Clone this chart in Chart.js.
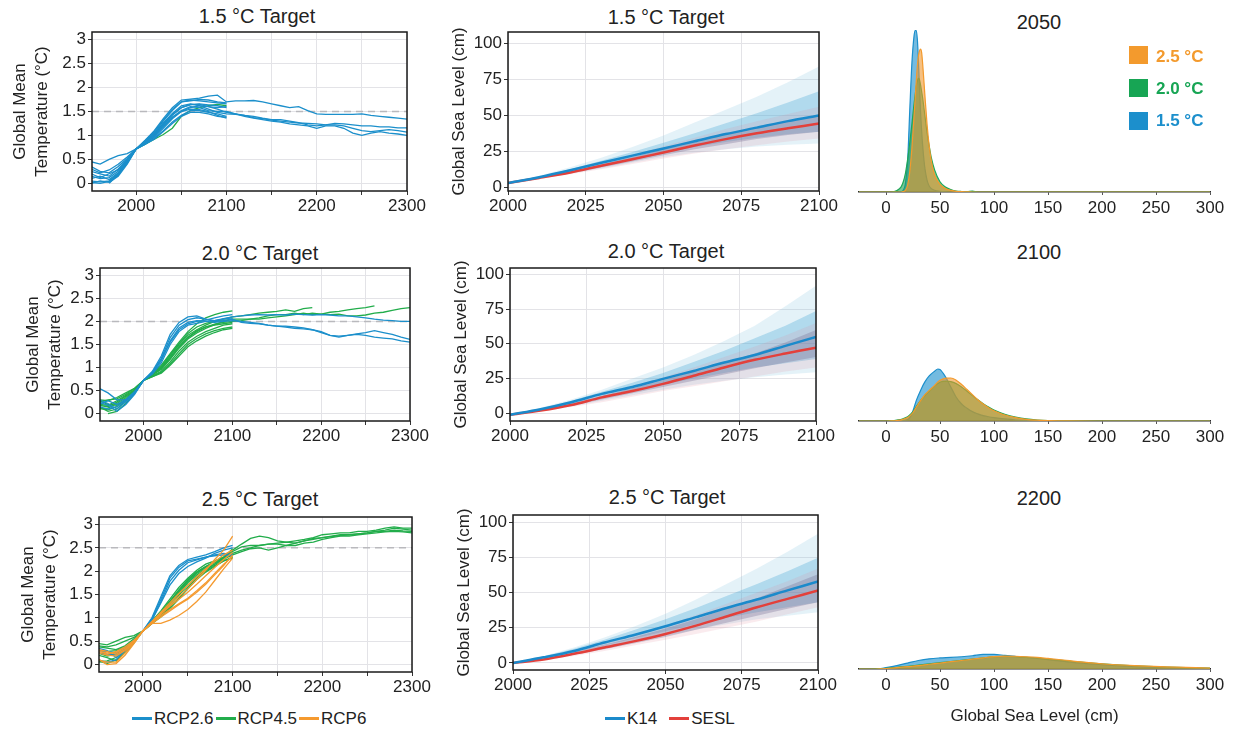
<!DOCTYPE html>
<html lang="en">
<head>
<meta charset="UTF-8">
<title>Temperature targets and sea level</title>
<script src="https://cdn.jsdelivr.net/npm/chart.js"></script>
<style>
    body {
        margin: 0;
        width: 1237px;
        height: 729px;
        position: relative;
        overflow: hidden;
        background: #fff;
        font-family: 'Liberation Sans', Arial, sans-serif;
        color: #222;
    }
    canvas { position: absolute; }
    .title {
        position: absolute;
        font-size: 20px;
        line-height: 20px;
        transform: translateX(-50%);
        white-space: nowrap;
    }
    .leg {
        position: absolute;
        font-size: 17px;
        line-height: 17px;
        display: flex;
        align-items: center;
        white-space: nowrap;
    }
    .leg i { display: inline-block; width: 20px; height: 3px; margin: 0 2px 0 0; }
    .leg span { margin-right: 2px; }
    .dleg {
        position: absolute;
        font-size: 17px;
        line-height: 17px;
        font-weight: bold;
        white-space: nowrap;
    }
    .sq { position: absolute; width: 19px; height: 18px; }
</style>
</head>
<body>
<!-- panel titles -->
<div class="title" style="left:257px;top:6px">1.5 °C Target</div>
<div class="title" style="left:666px;top:7px">1.5 °C Target</div>
<div class="title" style="left:1039px;top:12px">2050</div>
<div class="title" style="left:260px;top:243px">2.0 °C Target</div>
<div class="title" style="left:666px;top:241px">2.0 °C Target</div>
<div class="title" style="left:1039px;top:242px">2100</div>
<div class="title" style="left:260px;top:489px">2.5 °C Target</div>
<div class="title" style="left:667px;top:487px">2.5 °C Target</div>
<div class="title" style="left:1039px;top:488px">2200</div>

<canvas id="t15"></canvas>
<canvas id="t20"></canvas>
<canvas id="t25"></canvas>
<canvas id="s15"></canvas>
<canvas id="s20"></canvas>
<canvas id="s25"></canvas>
<canvas id="d2050"></canvas>
<canvas id="d2100"></canvas>
<canvas id="d2200"></canvas>

<!-- density legend -->
<div class="sq" style="left:1129px;top:46px;background:#f39a2d"></div>
<div class="sq" style="left:1129px;top:79px;background:#17a554"></div>
<div class="sq" style="left:1129px;top:112px;background:#1c8fcc"></div>
<div class="dleg" style="left:1156px;top:48px;color:#f39a2d">2.5 °C</div>
<div class="dleg" style="left:1156px;top:80px;color:#17a554">2.0 °C</div>
<div class="dleg" style="left:1156px;top:112px;color:#1c8fcc">1.5 °C</div>

<!-- bottom legends -->
<div class="leg" style="left:132px;top:710px">
    <i style="background:#1b8fcb"></i><span>RCP2.6</span>
    <i style="background:#22ad4b"></i><span>RCP4.5</span>
    <i style="background:#f59a2f"></i><span>RCP6</span>
</div>
<div class="leg" style="left:605px;top:710px">
    <i style="background:#1b8acb"></i><span style="margin-right:12px">K14</span>
    <i style="background:#e3403b"></i><span>SESL</span>
</div>

<script>
// ---- axes ----
const years = [1950,1960,1970,1980,1990,2000,2010,2020,2030,2040,2050,2060,2070,2080,2090,2100,
    2110,2120,2130,2140,2150,2160,2170,2180,2190,2200,2210,2220,2230,2240,2250,2260,2270,2280,2290,2300];
const tempTicksX = [2000,2050,2100,2150,2200,2250,2300];
const tempTicksY = [0,0.5,1,1.5,2,2.5,3];
const seaYears = [2000,2010,2020,2030,2040,2050,2060,2070,2080,2090,2100];
const seaTicksX = [2000,2025,2050,2075,2100];
const seaTicksY = [0,25,50,75,100];
const densTicksX = [0,50,100,150,200,250,300];
const targets = [1.5, 2.0, 2.5];

// ---- 1.5 °C target, global mean temperature (1950..2100, extensions 2110..2300) ----
const t15Rcp26 = [
    [0.45,0.40,0.50,0.58,0.62,0.72,0.90,1.10,1.35,1.58,1.74,1.76,1.78,1.82,1.84,1.70],
    [0.30,0.22,0.28,0.40,0.55,0.72,0.88,1.05,1.30,1.52,1.70,1.74,1.72,1.70,1.68,1.66],
    [0.25,0.20,0.15,0.30,0.50,0.72,0.85,1.00,1.22,1.42,1.58,1.65,1.65,1.60,1.55,1.48],
    [0.15,0.10,0.12,0.25,0.48,0.72,0.84,0.98,1.18,1.38,1.52,1.60,1.58,1.52,1.50,1.50],
    [0.05,0.03,0.05,0.20,0.45,0.72,0.84,0.96,1.15,1.35,1.50,1.58,1.62,1.55,1.48,1.45],
    [0.02,0.00,0.04,0.18,0.42,0.72,0.82,0.94,1.10,1.28,1.42,1.52,1.52,1.48,1.45,1.40],
    [0.10,0.15,0.08,0.22,0.46,0.72,0.86,1.00,1.20,1.38,1.50,1.55,1.54,1.50,1.42,1.36],
    [0.20,0.12,0.20,0.28,0.50,0.72,0.88,1.04,1.26,1.46,1.62,1.66,1.62,1.60,1.58,1.60],
    [0.00,0.05,0.02,0.15,0.40,0.72,0.82,0.92,1.08,1.25,1.40,1.48,1.48,1.45,1.40,1.38],
    [0.35,0.25,0.22,0.35,0.52,0.72,0.90,1.08,1.32,1.55,1.70,1.72,1.75,1.74,1.70,1.68],
    [null,null,0.00,0.18,0.45,0.72,0.86,1.02,1.24,1.44,1.58,1.64,1.66,1.64,1.62,1.58]
];
const t15Ext = [
    [1.72,1.72,1.73,1.70,1.66,1.62,1.58,1.60,1.52,1.45,1.44,1.44,1.44,1.44,1.45,1.42,1.40,1.38,1.36,1.34],
    [1.45,1.42,1.40,1.36,1.33,1.33,1.30,1.27,1.22,1.20,1.22,1.25,1.24,1.22,1.20,1.20,1.18,1.18,1.16,1.16],
    [1.45,1.40,1.36,1.33,1.30,1.28,1.24,1.22,1.20,1.15,1.20,1.20,1.15,1.05,1.00,1.05,1.08,1.05,1.03,1.00],
    [1.44,1.42,1.37,1.35,1.32,1.30,1.28,1.26,1.25,1.24,1.22,1.22,1.20,1.15,1.10,1.08,1.10,1.12,1.10,1.07]
];
const t15ExtOf = [0, 2, 3, 4];
const t15Rcp45 = [
    [null,null,0.05,0.20,0.45,0.72,0.82,0.92,1.02,1.15,1.40,1.52,1.58,1.62,1.65,1.62]
];

// ---- 2.0 °C target ----
const t20Rcp26 = [
    [0.55,0.45,0.30,0.30,0.45,0.72,0.92,1.25,1.72,1.98,2.10,2.12,2.05,2.02,2.06,2.10],
    [0.30,0.22,0.10,0.25,0.45,0.72,0.90,1.20,1.65,1.92,2.04,2.08,2.05,2.00,2.02,2.05],
    [0.25,0.18,0.05,0.20,0.42,0.72,0.88,1.15,1.58,1.86,1.98,2.02,2.00,1.98,2.00,2.02],
    [0.20,0.28,0.20,0.30,0.48,0.72,0.90,1.18,1.55,1.82,1.95,2.00,2.03,2.08,2.12,2.15],
    [0.15,0.10,0.15,0.28,0.46,0.72,0.86,1.10,1.50,1.78,1.92,1.96,2.00,2.02,2.05,2.08]
];
const t20Rcp26Ext = [
    [2.12,2.14,2.15,2.14,2.15,2.14,2.16,2.15,2.14,2.15,2.14,2.12,2.12,2.10,2.08,2.05,2.03,2.02,2.00,2.00],
    [1.98,1.96,1.95,1.92,1.90,1.90,1.88,1.86,1.82,1.78,1.70,1.66,1.70,1.73,1.76,1.80,1.76,1.72,1.66,1.61],
    [2.00,1.98,1.96,1.92,1.90,1.88,1.85,1.84,1.82,1.76,1.70,1.68,1.70,1.72,1.70,1.66,1.64,1.62,1.58,1.55]
];
const t20Rcp45 = [
    [0.30,0.28,0.35,0.45,0.55,0.72,0.88,1.05,1.30,1.55,1.78,1.95,2.08,2.15,2.20,2.23],
    [0.20,0.18,0.28,0.40,0.52,0.72,0.86,1.00,1.25,1.50,1.70,1.82,1.92,2.00,2.05,2.10],
    [0.10,0.12,0.22,0.35,0.50,0.72,0.84,0.96,1.18,1.42,1.62,1.75,1.85,1.93,2.00,2.05],
    [0.28,0.20,0.18,0.32,0.48,0.72,0.85,0.98,1.20,1.45,1.65,1.78,1.88,1.94,1.98,2.00],
    [0.15,0.05,0.10,0.28,0.46,0.72,0.82,0.92,1.12,1.36,1.55,1.68,1.78,1.85,1.92,1.95],
    [null,0.00,0.05,0.22,0.44,0.72,0.80,0.90,1.08,1.30,1.50,1.63,1.73,1.80,1.85,1.88],
    [0.25,0.30,0.32,0.42,0.55,0.72,0.87,1.02,1.28,1.52,1.74,1.88,1.96,2.00,2.02,2.05],
    [0.12,0.08,0.15,0.30,0.48,0.72,0.85,1.00,1.22,1.46,1.66,1.80,1.88,1.92,1.95,1.98],
    [0.18,0.15,0.25,0.38,0.50,0.72,0.80,0.88,1.05,1.25,1.45,1.58,1.68,1.76,1.82,1.85]
];
const t20Rcp45Ext = [
    [2.12,2.15,2.18,2.20,2.22,2.25,2.22,2.28,2.30],
    [2.05,2.05,2.08,2.12,2.15,2.15,2.18,2.15,2.18,2.16,2.20,2.22,2.25,2.28,2.30,2.34],
    [2.02,2.05,2.05,2.08,2.10,2.12,2.15,2.18,2.15,2.16,2.15,2.16,2.12,2.12,2.14,2.18,2.20,2.24,2.28,2.30]
];

// ---- 2.5 °C target ----
const t25Rcp26 = [
    [0.35,0.30,0.15,0.30,0.50,0.72,1.00,1.45,1.90,2.12,2.25,2.30,2.35,2.42,2.50,2.55],
    [0.25,0.22,0.20,0.32,0.50,0.72,0.98,1.40,1.85,2.08,2.22,2.26,2.30,2.35,2.38,2.36],
    [0.30,0.28,0.25,0.35,0.52,0.72,0.95,1.35,1.78,2.02,2.18,2.24,2.30,2.33,2.35,2.33],
    [0.10,0.05,0.10,0.30,0.48,0.72,0.95,1.32,1.70,1.95,2.10,2.20,2.28,2.38,2.45,2.50]
];
const t25Rcp45 = [
    [0.45,0.42,0.50,0.58,0.62,0.72,0.92,1.12,1.35,1.58,1.80,1.98,2.10,2.20,2.30,2.45],
    [0.40,0.38,0.42,0.50,0.58,0.72,0.90,1.08,1.30,1.52,1.75,1.92,2.05,2.15,2.28,2.42],
    [0.05,0.08,0.15,0.30,0.50,0.72,0.88,1.05,1.25,1.48,1.70,1.88,2.02,2.15,2.25,2.38],
    [0.08,0.02,0.10,0.28,0.48,0.72,0.90,1.10,1.32,1.55,1.78,1.95,2.08,2.18,2.26,2.35],
    [0.30,0.28,0.30,0.38,0.52,0.72,0.88,1.02,1.20,1.40,1.62,1.82,1.98,2.10,2.22,2.30],
    [0.20,0.15,0.08,0.25,0.46,0.72,0.92,1.12,1.35,1.60,1.82,1.98,2.10,2.20,2.28,2.35],
    [0.38,0.35,0.32,0.40,0.55,0.72,0.88,1.05,1.22,1.42,1.65,1.85,2.00,2.12,2.22,2.28],
    [0.25,0.18,0.22,0.35,0.50,0.72,0.93,1.15,1.40,1.65,1.85,2.02,2.15,2.22,2.30,2.48]
];
const t25Rcp45Ext = [
    [2.58,2.70,2.75,2.72,2.65,2.62,2.65,2.68,2.72,2.78,2.80,2.82,2.82,2.85,2.85,2.88,2.92,2.95,2.92,2.92],
    [2.52,2.55,2.55,2.58,2.60,2.62,2.60,2.65,2.68,2.72,2.74,2.76,2.78,2.80,2.82,2.85,2.88,2.92,2.90,2.88],
    [2.45,2.50,2.55,2.58,2.58,2.55,2.60,2.65,2.70,2.72,2.75,2.78,2.78,2.80,2.82,2.85,2.85,2.88,2.86,2.85],
    [2.42,2.48,2.50,2.45,2.50,2.55,2.55,2.60,2.62,2.68,2.72,2.75,2.75,2.78,2.80,2.82,2.84,2.85,2.84,2.82]
];
const t25Rcp6 = [
    [0.10,0.05,0.05,0.25,0.48,0.72,0.88,0.88,0.95,1.05,1.18,1.35,1.55,1.80,2.05,2.28],
    [0.28,0.25,0.25,0.35,0.50,0.72,0.90,1.05,1.18,1.30,1.42,1.58,1.75,1.95,2.15,2.32],
    [0.30,0.22,0.28,0.38,0.52,0.72,0.92,1.10,1.28,1.45,1.62,1.82,2.02,2.25,2.45,2.75],
    [0.12,0.00,0.02,0.20,0.45,0.72,0.88,1.02,1.15,1.28,1.40,1.55,1.72,1.92,2.12,2.35],
    [0.25,0.20,0.18,0.30,0.48,0.72,0.90,1.08,1.25,1.40,1.55,1.72,1.90,2.08,2.25,2.40],
    [0.32,0.28,0.22,0.32,0.50,0.72,0.92,1.12,1.32,1.52,1.70,1.88,2.05,2.20,2.35,2.45]
];

// ---- global sea level (cm), 2000..2100: median, 17-83 %, 5-95 % ----
const k14Med = [
    [3,7,11.8,17,22,27,32,37,41.5,46,50],
    [-1,3,8,14,19,24.8,30.5,36.5,42,48.5,55],
    [0,4,8.5,14.5,20,26,32.5,39,45,51.5,57.8]
];
const k14Hi17 = [
    [3,7.5,12.5,18.5,24.5,31,37.5,44.5,51.5,59,66.7],
    [-1,3.5,9,15.5,22,29,37,45,54,63,73.5],
    [0,4.5,10,16.5,23.5,31,39,47.5,56,65,74.6]
];
const k14Lo17 = [
    [3,6.5,10.5,14.5,19,23.5,28,31.5,34.5,36.8,38.7],
    [-1,2.5,6.5,11,16,20.5,25,29,33,36,39],
    [0,3.5,7.5,12.5,17.5,22.5,27.5,32,36,39.5,43]
];
const k14Hi5 = [
    [3,8,14,20.5,28,36,45,54,63,73,84],
    [-1,4,10,17,25,33,42,52,63,77,91.8],
    [0,5,11,18,26,35,45,56,67,79,91.7]
];
const k14Lo5 = [
    [3,6,9.5,13,17,21,24,26.5,28.3,29.5,30.5],
    [-1,2,5,9,13,17,20.5,23.5,26,28,29.6],
    [0,3,6.5,10.5,15,19.5,23.5,27.5,31,33.5,36]
];
const seslMed = [
    [3,6.5,10.3,15,19.5,24.2,29,33.5,37.5,41,44.3],
    [-1,2,6,11.5,16,21.2,27,33,38.5,43,47.2],
    [0,2.5,6.5,11,15.5,20.6,26.5,33,39.5,45.5,51.4]
];
const seslHi17 = [
    [3,6.8,11,16,21,26.5,32,37,41.5,46,50.5],
    [-1,2.5,7,12.5,18,23.8,30,36.5,43,51,60],
    [0,3,7.8,13,18.5,24.5,31,38.5,46,54.5,63]
];
const seslLo17 = [
    [3,6.2,9.6,13.8,18,22.2,26.5,30,33.5,36.3,38.7],
    [-1,1.8,5.5,10,14.5,19,23.5,28,32.5,36.5,40.5],
    [0,2.2,5.8,9.8,14,18.5,23.5,28.5,33.5,38.5,43]
];
const seslHi5 = [
    [3,7.2,11.8,17,22.5,28.5,34.5,40.5,46,51,56],
    [-1,3,8,13.5,19.5,26,33,40.5,48,56,65],
    [0,3.5,8.5,14,20,26.5,34,42,50,58,67]
];
const seslLo5 = [
    [3,5.8,9,12.5,16.2,20,23.5,26.5,29.3,31.8,34],
    [-1,1.5,4.5,8,12,16,19.5,23,26.5,30,33],
    [0,2,5,8.5,12.5,16.5,20.5,25,29.5,34.5,39.6]
];

// ---- sea level densities (arbitrary units) ----
const d2050X  = [-25,5,10,14,16,18,20,22,24,26,27,28,29,30,31,32,33,34,36,38,40,42,45,50,55,60,65,70,75,80,85,300];
const d2050B  = [0,0,0,0.2,1,5,18,48,76,92,95,95,90,78,62,47,36,27,14,7,3.5,2,1,0.4,0.1,0,0,0,0,0,0,0];
const d2050G  = [0,0,0.8,3,6,11,19,29,40,52,57,62,65,67,66,63,59,55,45,35,27,20,13,6,3,1.5,0.6,0.3,0.2,0.5,0,0];
const d2050O  = [0,0,0,0,0.3,1,4,12,26,45,55,65,74,80,83,84,82,75,57,40,27,18,10,4.5,2,1,0.4,0.2,0.1,0,0,0];
const d2100X  = [-25,0,5,10,15,20,22,25,28,32,36,40,45,48,50,53,56,60,65,70,75,80,85,90,95,100,110,120,130,140,150,170,200,300];
const d2100B  = [0,0,0,0,0.3,0.8,2,6,12,18,23,26.5,29.3,30.6,30.3,28,25,20,14,10,7.5,5.5,4.2,3.2,2.5,2,1.2,0.6,0.3,0.1,0,0,0,0];
const d2100G  = [0,0,0.2,0.6,1.2,2.5,3.5,5.5,8.5,12,15,17.5,20.5,22,22.8,23.3,23.5,23.2,22,20,17.5,15,12.5,10.2,8.2,6.5,4,2.3,1.2,0.6,0.3,0.1,0,0];
const d2100O  = [0,0,0.1,0.3,0.8,2,3,5,8,12,15.5,18,21,23,24,24.8,25.2,25.3,24,21.5,18.5,15.5,12.5,10,7.8,6,3.5,2,1,0.5,0.25,0.05,0,0];
const d2200X  = [-25,-15,-5,0,10,20,30,40,50,60,70,80,90,100,110,120,130,140,150,160,170,180,200,230,260,300];
const d2200B  = [0,0,0.3,0.8,2,3.5,5,6,6.5,6.8,7.2,7.8,8.6,8.6,8,7.4,6.8,6.2,5.5,4.8,4,3.4,2.5,1.4,0.8,0.3];
const d2200G  = [0,0,0.2,0.4,1,1.6,2.3,3,3.7,4.4,5.1,5.8,6.5,7.1,7.4,7.2,6.8,6.4,5.8,5.2,4.6,4,3,1.9,1.1,0.5];
const d2200O  = [0,0,0.1,0.3,0.8,1.4,2,2.8,3.5,4.3,5,5.8,6.6,7.3,7.6,7.5,7.2,6.8,6.2,5.6,4.9,4.2,3.1,2,1.2,0.6];

// ---- colours ----
const C26 = '#1b8fcb', C45 = '#22ad4b', C6 = '#f59a2f';
const K14 = '#1b8acb', SESL = '#e3403b';

Chart.defaults.font.family = "'Liberation Sans', Arial, sans-serif";
Chart.defaults.color = '#222';
Chart.defaults.animation = false;
Chart.defaults.plugins.legend.display = false;
Chart.defaults.plugins.tooltip.enabled = false;

// black box round the plot area
const frame = {
    id: 'frame',
    afterDatasetsDraw(chart) {
        const a = chart.chartArea, ctx = chart.ctx;
        ctx.save();
        ctx.strokeStyle = '#1a1a1a';
        ctx.lineWidth = 1.5;
        ctx.strokeRect(a.left, a.top, a.right - a.left, a.bottom - a.top);
        ctx.restore();
    }
};

// size a canvas so that its plot area lands on the given box
function place(id, box, wy, hx, padT, padR, padL) {
    const c = document.getElementById(id);
    c.width = box.r - box.l + wy + padR + padL;
    c.height = box.b - box.t + padT + hx;
    c.style.left = (box.l - wy - padL) + 'px';
    c.style.top = (box.t - padT) + 'px';
    return c.getContext('2d');
}

function xy(xs, ys) { return ys.map((v, i) => ({ x: xs[i], y: v })); }

const gridCol = '#e3e3e7';

function tempChart(id, box, wy, groups, target) {
    const sets = [];
    groups.forEach(([series, color]) => series.forEach(vals => sets.push({
        data: xy(years, vals), borderColor: color, borderWidth: 1.3,
        pointRadius: 0, tension: 0, fill: false
    })));
    sets.push({
        data: [{ x: 1951, y: target }, { x: 2300, y: target }],
        borderColor: '#b9b9bd', borderWidth: 1.4, borderDash: [7, 5], pointRadius: 0
    });
    new Chart(place(id, box, wy, 30, 10, 22, 0), {
        type: 'line',
        data: { datasets: sets },
        options: {
            responsive: false,
            layout: { padding: { top: 10, right: 22, left: 0, bottom: 0 } },
            scales: {
                x: {
                    type: 'linear', min: 1951, max: 2300,
                    afterBuildTicks: s => { s.ticks = tempTicksX.map(v => ({ value: v })); },
                    afterFit: s => { s.height = 30; s.paddingLeft = 0; s.paddingRight = 0; },
                    ticks: { autoSkip: false, maxRotation: 0, padding: 1, font: { size: 17 },
                        callback: v => (v % 100 === 0 ? String(v) : '') },
                    grid: { color: gridCol, tickColor: '#333', tickLength: 4 },
                    border: { display: false }
                },
                y: {
                    min: -0.16, max: 3.16,
                    afterBuildTicks: s => { s.ticks = tempTicksY.map(v => ({ value: v })); },
                    afterFit: s => { s.width = wy; s.paddingTop = 0; s.paddingBottom = 0; },
                    ticks: { padding: 2, font: { size: 17 }, callback: v => String(v) },
                    grid: { color: gridCol, tickColor: '#333', tickLength: 4 },
                    border: { display: false },
                    title: { display: true, text: ['Global Mean', 'Temperature (°C)'],
                        font: { size: 17, lineHeight: 1.25 }, padding: { top: 4, bottom: 0 } }
                }
            }
        },
        plugins: [frame]
    });
}

function seaChart(id, box, i, yMin, yMax) {
    const band = (data, color, target) => ({
        data: xy(seaYears, data), borderWidth: 0, pointRadius: 0,
        backgroundColor: color, fill: target === undefined ? false : { target: target }
    });
    const sets = [
        { data: xy(seaYears, k14Med[i]), borderColor: K14, borderWidth: 2.5, pointRadius: 0, tension: 0.3 },
        { data: xy(seaYears, seslMed[i]), borderColor: SESL, borderWidth: 2.5, pointRadius: 0, tension: 0.3 },
        band(seslHi17[i], 'rgba(110,100,140,0.3)', 3),
        band(seslLo17[i]),
        band(seslHi5[i], 'rgba(225,130,150,0.16)', 5),
        band(seslLo5[i]),
        band(k14Hi17[i], 'rgba(85,175,215,0.36)', 7),
        band(k14Lo17[i]),
        band(k14Hi5[i], 'rgba(130,195,225,0.22)', 9),
        band(k14Lo5[i])
    ];
    new Chart(place(id, box, 63, 30, 10, 22, 0), {
        type: 'line',
        data: { datasets: sets },
        options: {
            responsive: false,
            layout: { padding: { top: 10, right: 22, left: 0, bottom: 0 } },
            scales: {
                x: {
                    type: 'linear', min: 2000, max: 2100,
                    afterBuildTicks: s => { s.ticks = seaTicksX.map(v => ({ value: v })); },
                    afterFit: s => { s.height = 30; s.paddingLeft = 0; s.paddingRight = 0; },
                    ticks: { autoSkip: false, maxRotation: 0, padding: 1, font: { size: 17 },
                        callback: v => String(v) },
                    grid: { color: gridCol, tickColor: '#333', tickLength: 4 },
                    border: { display: false }
                },
                y: {
                    min: yMin, max: yMax,
                    afterBuildTicks: s => { s.ticks = seaTicksY.map(v => ({ value: v })); },
                    afterFit: s => { s.width = 63; s.paddingTop = 0; s.paddingBottom = 0; },
                    ticks: { padding: 2, font: { size: 17 }, callback: v => String(v) },
                    grid: { color: gridCol, tickColor: '#333', tickLength: 4 },
                    border: { display: false },
                    title: { display: true, text: 'Global Sea Level (cm)',
                        font: { size: 17, lineHeight: 1.25 }, padding: { top: 4, bottom: 0 } }
                }
            }
        },
        plugins: [frame]
    });
}

function densChart(id, box, xs, blue, green, orange, withTitle) {
    const hx = withTitle ? 60 : 30;
    const area = (ys, line, fillCol) => ({
        data: xy(xs, ys), borderColor: line, borderWidth: 1.2, backgroundColor: fillCol,
        fill: 'origin', pointRadius: 0, cubicInterpolationMode: 'monotone'
    });
    new Chart(place(id, box, 0, hx, 10, 22, 20), {
        type: 'line',
        data: { datasets: [
            area(orange, '#f39a2d', 'rgba(240,150,45,0.6)'),
            area(green, '#1fa757', 'rgba(25,160,80,0.6)'),
            area(blue, '#1c8fcc', 'rgba(30,145,205,0.62)')
        ] },
        options: {
            responsive: false,
            layout: { padding: { top: 10, right: 22, left: 20, bottom: 0 } },
            scales: {
                x: {
                    type: 'linear', min: -25, max: 300,
                    afterBuildTicks: s => { s.ticks = densTicksX.map(v => ({ value: v })); },
                    afterFit: s => { s.height = hx; s.paddingLeft = 0; s.paddingRight = 0; },
                    ticks: { autoSkip: false, maxRotation: 0, padding: 3, font: { size: 17 },
                        callback: v => String(v) },
                    grid: { display: true, drawOnChartArea: false, drawTicks: true,
                        tickLength: 3, tickColor: '#555' },
                    border: { display: true, color: '#2a2a2a', width: 1.5 },
                    title: { display: !!withTitle, text: 'Global Sea Level (cm)',
                        font: { size: 17 }, padding: { top: 0, bottom: 2 } }
                },
                y: { display: false, min: 0, max: 100 }
            }
        }
    });
}

// ---- build panels ----
const t15Series = t15Rcp26.map((s, i) => {
    const k = t15ExtOf.indexOf(i);
    return k >= 0 ? s.concat(t15Ext[k]) : s;
});
tempChart('t15', { l: 92, t: 32, r: 407, b: 191 }, 86,
    [[t15Series, C26], [t15Rcp45, C45]], targets[0]);

const t20Blue = t20Rcp26.map((s, i) => (i < t20Rcp26Ext.length ? s.concat(t20Rcp26Ext[i]) : s));
const t20Green = t20Rcp45.map((s, i) => (i >= 1 && i <= 3 ? s.concat(t20Rcp45Ext[i - 1]) : s));
tempChart('t20', { l: 100, t: 268, r: 410, b: 421 }, 81,
    [[t20Blue, C26], [t20Green, C45]], targets[1]);

const t25Green = t25Rcp45.map((s, i) => (i < t25Rcp45Ext.length ? s.concat(t25Rcp45Ext[i]) : s));
tempChart('t25', { l: 99, t: 517, r: 412, b: 672 }, 85,
    [[t25Rcp6, C6], [t25Rcp26, C26], [t25Green, C45]], targets[2]);

seaChart('s15', { l: 508, t: 32, r: 819, b: 191 }, 0, -2.6, 108);
seaChart('s20', { l: 510, t: 268, r: 816, b: 421 }, 1, -5.5, 104.5);
seaChart('s25', { l: 513, t: 515, r: 818, b: 670 }, 2, -5, 105);

densChart('d2050', { l: 859, t: 22, r: 1210, b: 192 }, d2050X, d2050B, d2050G, d2050O, false);
densChart('d2100', { l: 859, t: 251, r: 1210, b: 421 }, d2100X, d2100B, d2100G, d2100O, false);
densChart('d2200', { l: 859, t: 499, r: 1210, b: 669 }, d2200X, d2200B, d2200G, d2200O, true);
</script>
</body>
</html>
